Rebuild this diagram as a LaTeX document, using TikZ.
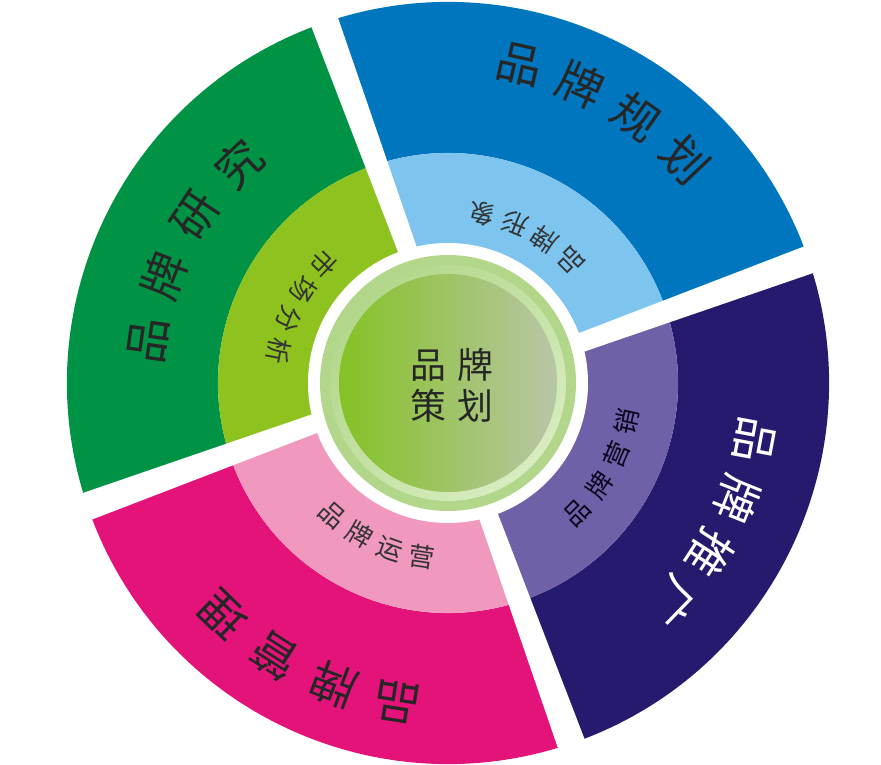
\documentclass[tikz,border=0pt]{standalone}
\usepackage{fontspec}
\newfontfamily\cjk{Noto Sans CJK SC}
\definecolor{gdark}{RGB}{0,146,69}
\definecolor{glight}{RGB}{141,194,31}
\definecolor{bdark}{RGB}{0,118,190}
\definecolor{blight}{RGB}{125,197,238}
\definecolor{ndark}{RGB}{38,26,110}
\definecolor{nlight}{RGB}{112,96,168}
\definecolor{mdark}{RGB}{227,19,122}
\definecolor{mlight}{RGB}{240,152,190}
\definecolor{hubring}{RGB}{178,215,138}
\definecolor{hubrim}{RGB}{216,236,192}
\definecolor{hubleft}{RGB}{132,194,37}
\definecolor{hubright}{RGB}{185,198,166}

\begin{document}
\begin{tikzpicture}[x=1bp,y=1bp,
    outer node/.style={inner sep=-1bp,text=black!85,font=\cjk\fontsize{46}{46}\selectfont},
    inner node/.style={inner sep=-1bp,text=black!80,font=\cjk\fontsize{26}{26}\selectfont},
    hub node/.style={inner sep=0pt,align=center,text=black!85,font=\cjk\fontsize{36}{41}\selectfont}]

    \useasboundingbox (-448,-382) rectangle (433,383);

    \foreach \a/\d/\l [evaluate=\a as \b using \a+90] in {20/bdark/blight,110/gdark/glight,200/mdark/mlight,290/ndark/nlight}{
        \fill[\d] (\a:230) arc[start angle=\a,end angle=\b,radius=230] -- (\b:381) arc[start angle=\b,end angle=\a,radius=381] -- cycle;
        \fill[\l] (0,0) -- (\a:230) arc[start angle=\a,end angle=\b,radius=230] -- cycle;
    }
    \foreach \a in {20,110,200,290}
        \fill[white,rotate=\a] (100,-16.4) -- (400,-21.9) -- (400,6.9) -- (100,1.4) -- cycle;

    \fill[white] (0,0) circle[radius=140];
    \fill[hubring] (0,0) circle[radius=128];
    \shade[even odd rule,top color=hubring,bottom color=hubrim,shading angle=45] (0,0) circle[radius=118] (0,0) circle[radius=109];
    \shade[left color=hubleft,right color=hubright] (0,0) circle[radius=109];
    \node[hub node] (hub) at (4,-2) {品\hspace{.3em}牌\\策\hspace{.3em}划};

    \foreach \c [count=\i,evaluate=\i as \t using 172-12.8*(\i-1)] in {品,牌,研,究}
        \node[outer node,rotate=\t-90] (research\i) at (\t:303) {\c};
    \foreach \c [count=\i,evaluate=\i as \t using 77.3-11.3*(\i-1)] in {品,牌,规,划}
        \node[outer node,rotate=\t-90] (planning\i) at (\t:326) {\c};
    \foreach \c [count=\i,evaluate=\i as \t using -10.6-11.2*(\i-1)] in {品,牌,推,广}
        \node[outer node,text=white,rotate=\t-90] (promotion\i) at (\t:312) {\c};
    \foreach \c [count=\i,evaluate=\i as \t using 261-11.7*(\i-1)] in {品,牌,管,理}
        \node[outer node,rotate=\t-90] (management\i) at (\t:323) {\c};

    \foreach \c [count=\i,evaluate=\i as \t using 136.2+11*(\i-1)] in {市,场,分,析}
        \node[inner node,rotate=\t+90] (market\i) at (\t:172) {\c};
    \foreach \c [count=\i,evaluate=\i as \t using 44.8+11.3*(\i-1)] in {品,牌,形,象}
        \node[inner node,rotate=\t+90] (image\i) at (\t:173) {\c};
    \foreach \c [count=\i,evaluate=\i as \t using -45+10.9*(\i-1)] in {品,牌,营,销}
        \node[inner node,text=black!75!ndark,rotate=\t+90] (marketing\i) at (\t:183) {\c};
    \foreach \c [count=\i,evaluate=\i as \t using 228.8+10.9*(\i-1)] in {品,牌,运,营}
        \node[inner node,rotate=\t+90] (operation\i) at (\t:176) {\c};
\end{tikzpicture}
\end{document}
